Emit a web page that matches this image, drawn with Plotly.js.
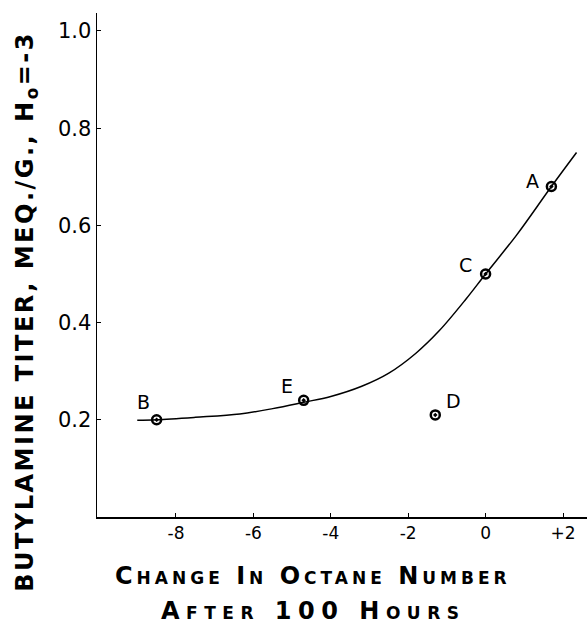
<!DOCTYPE html>
<html><head><meta charset="utf-8">
<script src="https://cdn.plot.ly/plotly-3.0.1.min.js"></script>
<style>body{margin:0;background:#fff}#plot{width:587px;height:624px}</style>
</head><body><div id="plot"></div>
<script>
// Data points
var pointLabels = ["A", "B", "C", "D", "E"];
var pointX = [1.7, -8.5, 0.0, -1.3, -4.7];
var pointY = [0.68, 0.20, 0.50, 0.21, 0.24];
// Label offsets (pixels) relative to each point
var labelDX = [-19, -13, -20, 18, -17];
var labelDY = [6, 18, 9, 14, 14];
// Fitted curve
var curveX = [-9.0, -8.5, -7.5, -6.35, -5.5, -4.7, -4.0, -3.2, -2.5, -1.8, -1.2, -0.5, 0.0, 0.8, 1.7, 2.35];
var curveY = [0.199, 0.200, 0.205, 0.212, 0.223, 0.236, 0.248, 0.269, 0.296, 0.337, 0.383, 0.449, 0.500, 0.580, 0.680, 0.750];
// Ticks
var xTickVals = [-8, -6, -4, -2, 0, 2];
var xTickText = ["-8", "-6", "-4", "-2", "0", "+2"];
var yTickVals = [0.2, 0.4, 0.6, 0.8, 1.0];
var yTickText = ["0.2", "0.4", "0.6", "0.8", "1.0"];
// Titles
var xTitle1 = "Change In Octane Number";
var xTitle2 = "After 100 Hours";
var yTitle = "BUTYLAMINE TITER, MEQ./G., H<sub>o</sub>=-3";

var traces = [
  {x: curveX, y: curveY, mode: "lines", line: {color: "#000", width: 1.5, shape: "spline", smoothing: 1}, hoverinfo: "skip"},
  {x: pointX, y: pointY, mode: "markers", marker: {symbol: "circle-open-dot", size: 9, color: "#000", line: {width: 2.5, color: "#000"}}}
];

var ann = pointLabels.map(function(t, i){
  return {x: pointX[i], y: pointY[i], xref: "x", yref: "y", text: t, showarrow: false,
    xshift: labelDX[i], yshift: labelDY[i], font: {family: "DejaVu Sans", size: 19, color: "#000"}};
});
function spaced(t, px){ return '<span style="letter-spacing:' + px + 'px">' + t + '</span>'; }
ann.push({xref: "paper", yref: "paper", x: 0.441, y: -0.117, text: spaced(xTitle1, 4), showarrow: false,
  xanchor: "center", yanchor: "middle", font: {family: "DejaVu Sans", size: 24, weight: "bold", color: "#000", variant: "small-caps"}});
ann.push({xref: "paper", yref: "paper", x: 0.441, y: -0.186, text: spaced(xTitle2, 6.5), showarrow: false,
  xanchor: "center", yanchor: "middle", font: {family: "DejaVu Sans", size: 24, weight: "bold", color: "#000", variant: "small-caps"}});
ann.push({xref: "paper", yref: "paper", x: -0.143, y: 0.409, text: spaced(yTitle, 2.5), showarrow: false,
  textangle: -90, xanchor: "center", yanchor: "middle", font: {family: "DejaVu Sans", size: 24, weight: "bold", color: "#000"}});

var layout = {
  width: 587, height: 624,
  margin: {l: 97, r: 0, t: 13, b: 107},
  paper_bgcolor: "#fff", plot_bgcolor: "#fff",
  showlegend: false,
  xaxis: {range: [-10.04, 2.62], showgrid: false, zeroline: false, showline: true, linecolor: "#000", linewidth: 1.5,
    ticks: "inside", ticklen: 4, tickcolor: "#000", tickvals: xTickVals, ticktext: xTickText,
    tickfont: {family: "DejaVu Sans", size: 17, color: "#000"}},
  yaxis: {range: [0, 1.037], showgrid: false, zeroline: false, showline: true, linecolor: "#000", linewidth: 1.5,
    ticks: "inside", ticklen: 4, tickcolor: "#000", tickvals: yTickVals, ticktext: yTickText,
    tickfont: {family: "DejaVu Sans", size: 21, color: "#000"}},
  annotations: ann
};
Plotly.newPlot("plot", traces, layout, {displayModeBar: false, staticPlot: true});
</script>
</body></html>
